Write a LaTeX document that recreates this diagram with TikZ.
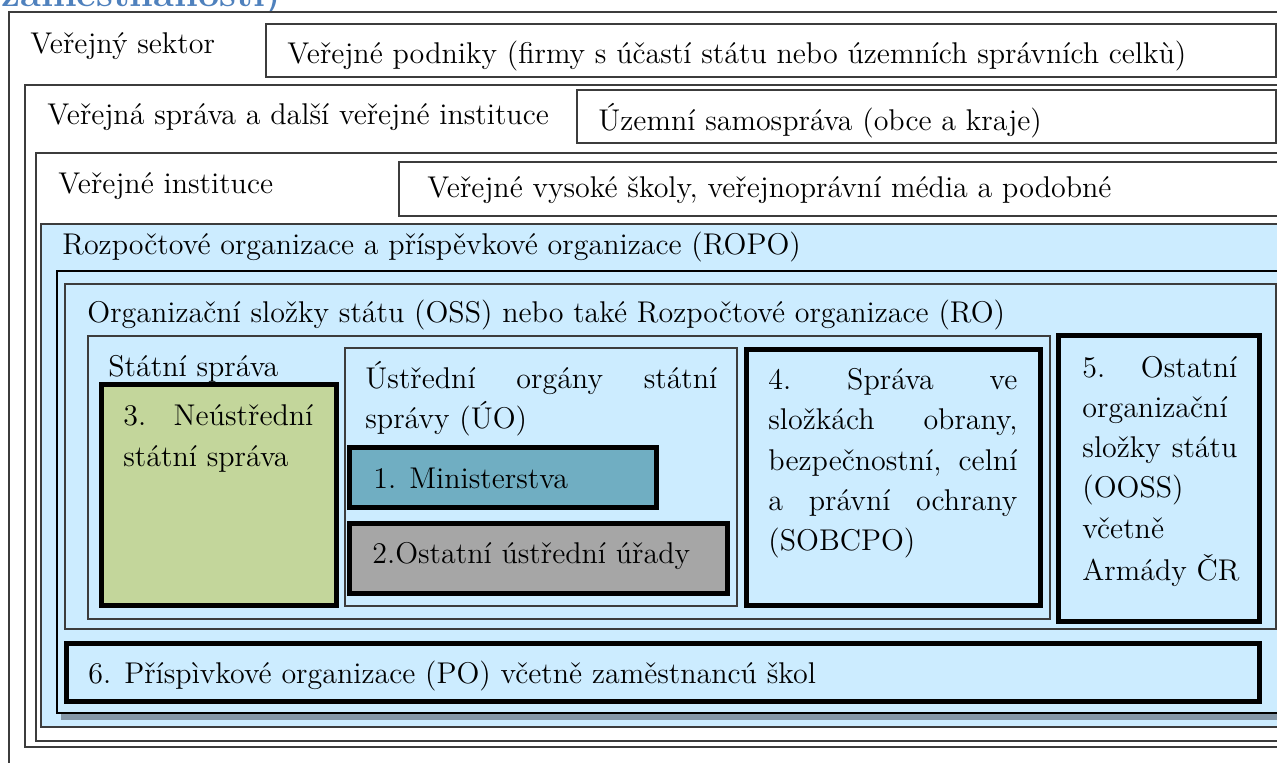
\documentclass[tikz,border=0pt]{standalone}
\usepackage{fontspec}
\setmainfont{lmroman12-regular.otf}[BoldFont=lmroman12-bold.otf]
\newcommand\bodyfont{\fontsize{15.0}{18}\selectfont}
\definecolor{linegrey}{HTML}{3C3C3C}
\definecolor{lblue}{HTML}{CCECFF}
\definecolor{olive}{HTML}{C3D69B}
\definecolor{teal}{HTML}{70AEC2}
\definecolor{midgrey}{HTML}{A6A6A6}
\definecolor{shadowc}{HTML}{8497A8}
\definecolor{titleblue}{HTML}{4F81BD}
\begin{document}
\begin{tikzpicture}[x=0.5pt,y=-0.5pt,
  thinbox/.style={draw=linegrey, line width=0.75pt},
  thickbox/.style={draw=black, line width=2.5pt},
  txt/.style={anchor=base west, inner sep=0pt, font=\bodyfont}]
\useasboundingbox (0,0) rectangle (1277,762);
\clip (0,0) rectangle (1277,762);
\fill[white] (0,0) rectangle (1277,762);
% title (cut off at the top edge, as in the reference)
\node[anchor=base west, inner sep=0pt, font=\fontsize{19}{23}\selectfont\bfseries, text=titleblue] (title) at (1,6) {zaměstnanosti)};
% outer boxes
\draw[thinbox, fill=white] (9,12) rectangle (1310,800);
\draw[thinbox, fill=white] (266,24) rectangle (1276,77);
\draw[thinbox, fill=white] (25,85) rectangle (1310,747);
\draw[thinbox, fill=white] (577,90) rectangle (1276,143);
\draw[thinbox, fill=white] (36,153) rectangle (1310,741);
\draw[thinbox, fill=white] (399,162) rectangle (1310,216);
\draw[thinbox, fill=lblue] (41,224) rectangle (1310,727);
\fill[shadowc] (61,713) rectangle (1310,719.5);
\draw[draw=black, line width=1.1pt, fill=lblue] (57,271) rectangle (1310,713);
\draw[thinbox, fill=lblue] (65,284) rectangle (1276,629);
\draw[thinbox, fill=lblue] (88,336) rectangle (1050,619);
\draw[thickbox, fill=olive] (101,384) rectangle (336.5,605.5);
\draw[thinbox, fill=lblue] (345,348) rectangle (737,606);
\draw[thickbox, fill=teal] (349,447.5) rectangle (656.5,507.5);
\draw[thickbox, fill=midgrey] (349,523) rectangle (727,593);
\draw[thickbox, fill=lblue] (746.5,349) rectangle (1040,605.5);
\draw[thickbox, fill=lblue] (1058.5,335.5) rectangle (1259.5,621);
\draw[thickbox, fill=lblue] (66,643) rectangle (1259.5,701.5);
% texts
\node[txt] (t1) at (30,53) {Veřejný sektor};
\node[txt] (t2) at (287,63) {Veřejné podniky (firmy s účastí státu nebo územních správních celkù)};
\node[txt] (t3) at (47,124) {Veřejná správa a další veřejné instituce};
\node[txt] (t4) at (598,130) {Územní samospráva (obce a kraje)};
\node[txt] (t5) at (58,193) {Veřejné instituce};
\node[txt] (t6) at (427,197) {Veřejné vysoké školy, veřejnoprávní média a podobné};
\node[txt] (t7) at (62,254) {Rozpočtové organizace a příspěvkové organizace (ROPO)};
\node[txt] (t8) at (87,322) {Organizační složky státu (OSS) nebo také Rozpočtové organizace (RO)};
\node[txt] (t9) at (108,376) {Státní správa};
\node[txt] (t10a) at (123,425) {\hbox to 95pt{3.\hfill Neústřední}};
\node[txt] (t10b) at (123,466.5) {státní správa};
\node[txt] (t11a) at (365,388) {\hbox to 176pt{Ústřední\hfill orgány\hfill státní}};
\node[txt] (t11b) at (365,428) {správy (ÚO)};
\node[txt] (t12) at (373,488) {1. Ministerstva};
\node[txt] (t13) at (372,563) {2.Ostatní ústřední úřady};
\node[txt] (t14a) at (768,389) {\hbox to 124.5pt{4.\hfill Správa\hfill ve}};
\node[txt] (t14b) at (768,429.5) {\hbox to 124.5pt{složkách\hfill obrany,}};
\node[txt] (t14c) at (768,470) {\hbox to 124.5pt{bezpečnostní,\hfill celní}};
\node[txt] (t14d) at (768,510) {\hbox to 124.5pt{a\hfill právní\hfill ochrany}};
\node[txt] (t14e) at (768,550) {(SOBCPO)};
\node[txt] (t15a) at (1082,377) {\hbox to 77.5pt{5.\hfill Ostatní}};
\node[txt] (t15b) at (1082,417) {organizační};
\node[txt] (t15c) at (1082,457) {\hbox to 77.5pt{složky\hfill státu}};
\node[txt] (t15d) at (1082,497) {(OOSS)};
\node[txt] (t15e) at (1082,538) {včetně};
\node[txt] (t15f) at (1082,580) {Armády ČR};
\node[txt] (t16) at (88,683) {6. Příspìvkové organizace (PO) včetně zaměstnancú škol};
\end{tikzpicture}
\end{document}
